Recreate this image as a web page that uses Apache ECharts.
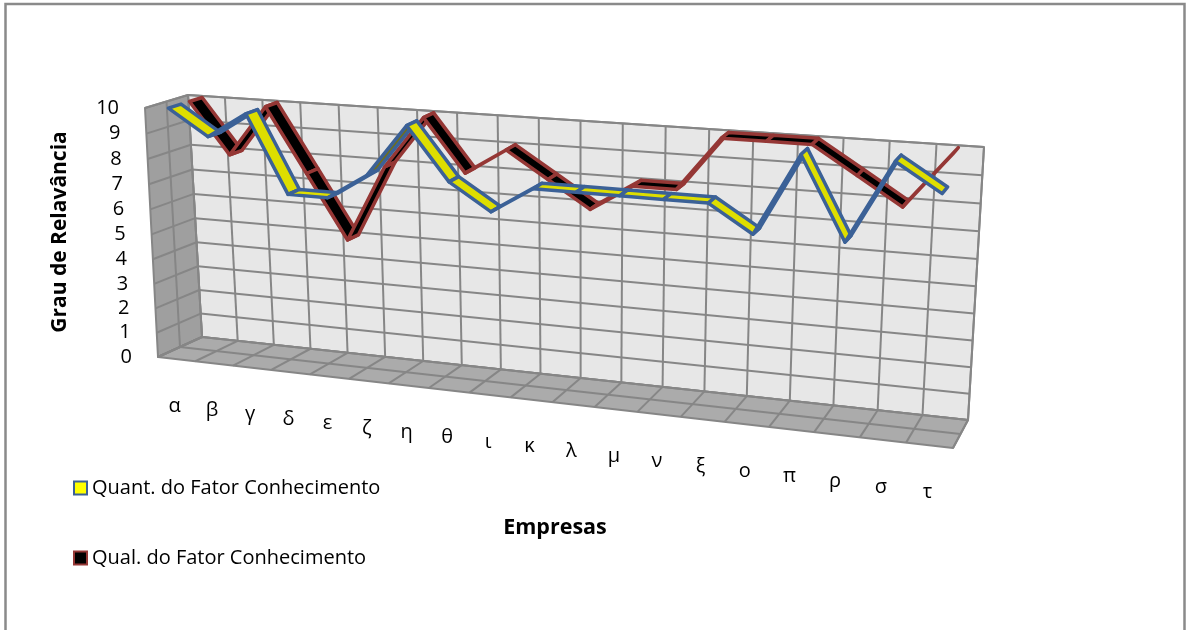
<!DOCTYPE html>
<html>
<head>
<meta charset="utf-8">
<script src="https://cdn.jsdelivr.net/npm/echarts@6/dist/echarts.min.js"></script>
<style>
  html, body { margin: 0; padding: 0; background: #ffffff; }
  #chart { width: 1186px; height: 630px; }
</style>
</head>
<body>
<div id="chart"></div>
<script>
// ---- data ----
const categories = ['α', 'β', 'γ', 'δ', 'ε', 'ζ', 'η', 'θ', 'ι', 'κ', 'λ', 'μ', 'ν', 'ξ', 'ο', 'π', 'ρ', 'σ', 'τ'];
const quantValues = [10, 9, 10, 7, 7, 8, 10, 8, 7, 8, 8, 8, 8, 8, 7, 10, 7, 10, 9];
const qualValues  = [10, 8, 10, 7.5, 5, 8, 10, 8, 9, 8, 7, 8, 8, 10, 10, 10, 9, 8, 10];
const valueTicks  = [0, 1, 2, 3, 4, 5, 6, 7, 8, 9, 10];
const seriesNames = ['Quant. do Fator Conhecimento', 'Qual. do Fator Conhecimento'];
const xAxisTitle = 'Empresas';
const yAxisTitle = 'Grau de Relavância';

// ---- 3D box layout: back wall (depth 0) and front face (depth 1) ----
const BOX = {
  back:  { bl: [202, 337], br: [968, 420], tr: [984, 147], tl: [188, 95] },
  front: { bl: [158, 357], br: [953, 448], tr: [966, 169], tl: [145, 108] }
};
// hidden cartesian plane used for the value/category scales
const PLANE = { left: 100, top: 100, width: 800, height: 400 };
const FONT = "'Open Sans', Lato, sans-serif";
const GRID_STROKE = '#868686';
const RIBBON_HALF = 0.15;
const N = categories.length;
const VMAX = 10;

// unit square -> quadrilateral (projective)
function squareToQuad(q) {
  const [x0, y0] = q.bl, [x1, y1] = q.br, [x2, y2] = q.tr, [x3, y3] = q.tl;
  const dx1 = x1 - x2, dx2 = x3 - x2, dx3 = x0 - x1 + x2 - x3;
  const dy1 = y1 - y2, dy2 = y3 - y2, dy3 = y0 - y1 + y2 - y3;
  const den = dx1 * dy2 - dy1 * dx2;
  const g = (dx3 * dy2 - dy3 * dx2) / den;
  const h = (dx1 * dy3 - dy1 * dx3) / den;
  const a = x1 - x0 + g * x1, b = x3 - x0 + h * x3, c = x0;
  const d = y1 - y0 + g * y1, e = y3 - y0 + h * y3, f = y0;
  return function (u, v) {
    const z = g * u + h * v + 1;
    return [(a * u + b * v + c) / z, (d * u + e * v + f) / z];
  };
}
const backH = squareToQuad(BOX.back);
const frontH = squareToQuad(BOX.front);
function project(u, v, w) {
  const b = backH(u, v), f = frontH(u, v);
  return [b[0] + (f[0] - b[0]) * w, b[1] + (f[1] - b[1]) * w];
}
// pixel on the hidden plane -> normalized (u, v)
function planeUV(pt) {
  return [(pt[0] - PLANE.left) / PLANE.width, (PLANE.top + PLANE.height - pt[1]) / PLANE.height];
}

function seg(p, q) {
  return { type: 'line', shape: { x1: p[0], y1: p[1], x2: q[0], y2: q[1] },
           style: { stroke: GRID_STROKE, lineWidth: 2 } };
}
function face(pts, fill) {
  return { type: 'polygon', shape: { points: pts },
           style: { fill: fill, stroke: GRID_STROKE, lineWidth: 2, lineJoin: 'round' } };
}

// walls, floor, gridlines and tick labels
function renderBox(params, api) {
  const ch = [];
  ch.push(face([project(0, 0, 0), project(1, 0, 0), project(1, 1, 0), project(0, 1, 0)], '#e7e7e7'));
  ch.push(face([project(0, 0, 0), project(0, 1, 0), project(0, 1, 1), project(0, 0, 1)], '#9f9f9f'));
  ch.push(face([project(0, 0, 0), project(1, 0, 0), project(1, 0, 1), project(0, 0, 1)], '#ababab'));
  valueTicks.forEach(function (t) {
    const v = t / VMAX;
    ch.push(seg(project(0, v, 0), project(1, v, 0)));
    ch.push(seg(project(0, v, 0), project(0, v, 1)));
  });
  for (let j = 0; j <= N; j++) {
    const u = j / N;
    ch.push(seg(project(u, 0, 0), project(u, 1, 0)));
    ch.push(seg(project(u, 0, 0), project(u, 0, 1)));
  }
  ch.push(seg(project(0, 0, 0.5), project(0, 1, 0.5)));
  ch.push(seg(project(0, 0, 0.5), project(1, 0, 0.5)));

  valueTicks.forEach(function (t) {
    const p = project(0, t / VMAX, 1);
    ch.push({ type: 'text', x: p[0] - 26, y: p[1],
      style: { text: String(t), align: 'right', verticalAlign: 'middle',
               fontSize: 20, fontFamily: FONT, fill: '#000' } });
  });
  categories.forEach(function (c, i) {
    const u = planeUV(api.coord([i, 0]))[0];
    const p = project(u, 0, 1);
    ch.push({ type: 'text', x: p[0] - 2, y: p[1] + 47,
      style: { text: c, align: 'center', verticalAlign: 'middle',
               fontSize: 20, fontFamily: FONT, fill: '#000' } });
  });
  return { type: 'group', children: ch };
}

// one ribbon segment per data item, from item i to item i+1
function ribbon(values, depth, topFill, underFill, edge) {
  return function (params, api) {
    const i = params.dataIndex;
    if (i >= values.length - 1) return null;
    const a = planeUV(api.coord([i, api.value(1)]));
    const b = planeUV(api.coord([i + 1, values[i + 1]]));
    const w0 = depth - RIBBON_HALF, w1 = depth + RIBBON_HALF;
    const A = project(a[0], a[1], w0), B = project(b[0], b[1], w0);
    const C = project(b[0], b[1], w1), D = project(a[0], a[1], w1);
    const cross = (B[0] - A[0]) * (D[1] - A[1]) - (B[1] - A[1]) * (D[0] - A[0]);
    return { type: 'polygon', shape: { points: [A, B, C, D] },
      style: { fill: cross > 0 ? topFill : underFill, stroke: edge, lineWidth: 3.5, lineJoin: 'round' } };
  };
}

const QUANT = { fill: '#dede00', under: '#6f6f1c', edge: '#3b6197', legend: '#ffff00' };
const QUAL  = { fill: '#000000', under: '#000000', edge: '#953735', legend: '#000000' };

const legendBase = {
  left: 73, icon: 'rect', itemWidth: 13, itemHeight: 13, padding: 0, selectedMode: false,
  textStyle: { fontFamily: FONT, fontSize: 20, color: '#000' }
};

const chart = echarts.init(document.getElementById('chart'), null, { renderer: 'canvas' });
chart.setOption({
  animation: false,
  backgroundColor: '#ffffff',
  grid: Object.assign({ show: false }, PLANE),
  xAxis: { type: 'category', data: categories, show: false },
  yAxis: { type: 'value', min: 0, max: VMAX, show: false },
  legend: [
    Object.assign({}, legendBase, { top: 478,
      data: [{ name: seriesNames[0], itemStyle: { color: QUANT.legend, borderColor: QUANT.edge, borderWidth: 2 } }] }),
    Object.assign({}, legendBase, { top: 548,
      data: [{ name: seriesNames[1], itemStyle: { color: QUAL.legend, borderColor: QUAL.edge, borderWidth: 2 } }] })
  ],
  graphic: [
    { type: 'rect', shape: { x: 5.5, y: 4, width: 1179, height: 700 },
      style: { fill: 'none', stroke: '#8a8a8a', lineWidth: 2.5 }, silent: true },
    { type: 'text', x: 60, y: 232, rotation: Math.PI / 2,
      style: { text: yAxisTitle, align: 'center', verticalAlign: 'middle',
               fontSize: 21, fontWeight: 'bold', fontFamily: FONT, fill: '#000' } },
    { type: 'text', x: 555, y: 528,
      style: { text: xAxisTitle, align: 'center', verticalAlign: 'middle',
               fontSize: 21.5, fontWeight: 'bold', fontFamily: FONT, fill: '#000' } }
  ],
  series: [
    { type: 'custom', name: '_box', silent: true, clip: false, z: 1,
      data: [[0, 0]], renderItem: renderBox },
    { type: 'custom', name: seriesNames[1], silent: true, clip: false, z: 2,
      itemStyle: { color: QUAL.legend, borderColor: QUAL.edge },
      data: qualValues.map(function (v, i) { return [i, v]; }),
      renderItem: ribbon(qualValues, 0.25, QUAL.fill, QUAL.under, QUAL.edge) },
    { type: 'custom', name: seriesNames[0], silent: true, clip: false, z: 3,
      itemStyle: { color: QUANT.legend, borderColor: QUANT.edge },
      data: quantValues.map(function (v, i) { return [i, v]; }),
      renderItem: ribbon(quantValues, 0.75, QUANT.fill, QUANT.under, QUANT.edge) }
  ]
});
</script>
</body>
</html>
